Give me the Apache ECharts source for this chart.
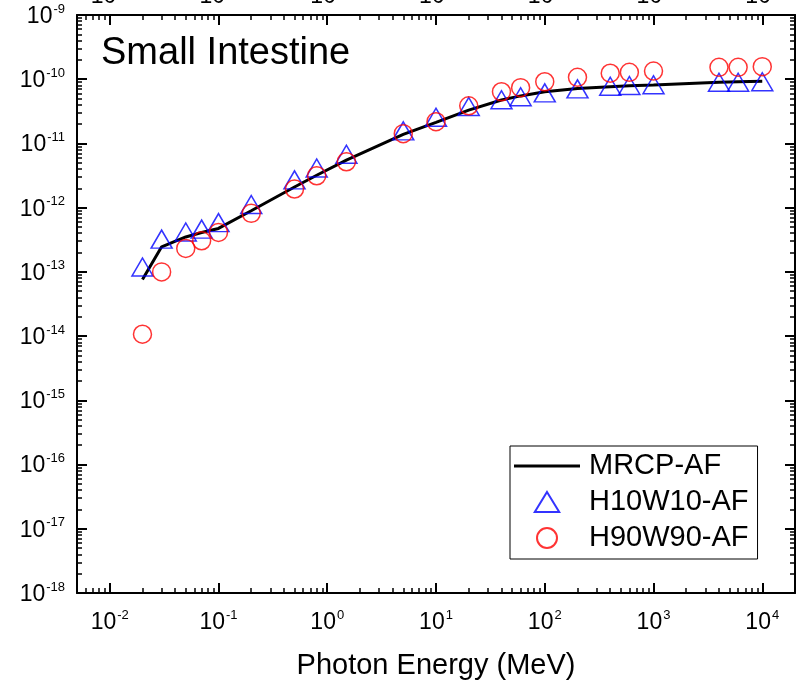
<!DOCTYPE html>
<html>
<head>
<meta charset="utf-8">
<script src="https://cdn.jsdelivr.net/npm/echarts@6/dist/echarts.min.js"></script>
<style>
html,body{margin:0;padding:0;background:#fff;}
#chart{width:798px;height:683px;}
</style>
</head>
<body>
<div id="chart"></div>
<script>
// Photon energies (MeV)
const energies = [0.02,0.03,0.05,0.07,0.1,0.2,0.5,0.8,1.5,5,10,20,40,60,100,200,400,600,1000,4000,6000,10000];
// MRCP-AF reference curve
const mrcpAF = [7.6e-14,2.46e-13,3.5e-13,4.1e-13,4.75e-13,8.95e-13,2.1e-12,3.2e-12,5.5e-12,1.38e-11,2.13e-11,3.31e-11,4.74e-11,5.5e-11,6.38e-11,7.2e-11,7.64e-11,7.9e-11,8.13e-11,9.0e-11,9.15e-11,9.27e-11];
// H10W10-AF
const h10w10AF = [1.19e-13,3.24e-13,4.17e-13,4.64e-13,5.86e-13,1.12e-12,2.71e-12,4.14e-12,6.79e-12,1.57e-11,2.56e-11,3.76e-11,4.78e-11,5.33e-11,6.14e-11,7.08e-11,7.78e-11,7.97e-11,8.2e-11,8.97e-11,8.97e-11,9.13e-11];
// H90W90-AF
const h90w90AF = [1.07e-14,1.0e-13,2.32e-13,3.05e-13,4.12e-13,8.15e-13,1.95e-12,3.14e-12,5.19e-12,1.42e-11,2.18e-11,3.86e-11,6.38e-11,7.38e-11,9.13e-11,1.07e-10,1.24e-10,1.28e-10,1.34e-10,1.53e-10,1.53e-10,1.57e-10];

// Axis tick values
const xMajorTicks = [1e-2,1e-1,1,1e1,1e2,1e3,1e4];
const xMinorTicks = [6e-3,7e-3,8e-3,9e-3,
  2e-2,3e-2,4e-2,5e-2,6e-2,7e-2,8e-2,9e-2,
  0.2,0.3,0.4,0.5,0.6,0.7,0.8,0.9,
  2,3,4,5,6,7,8,9,
  20,30,40,50,60,70,80,90,
  200,300,400,500,600,700,800,900,
  2000,3000,4000,5000,6000,7000,8000,9000];
const yMajorTicks = [1e-18,1e-17,1e-16,1e-15,1e-14,1e-13,1e-12,1e-11,1e-10,1e-9];
const yMinorTicks = [];
for (let k = -18; k <= -10; k++) { for (let m = 2; m <= 9; m++) yMinorTicks.push(Number((m + 'e' + k))); }

const FONT = 'Liberation Sans, Arial, sans-serif';
const expLabel = v => '{b|10}{s|' + Math.round(Math.log10(v)) + '}';
const richLbl = {
  b: {fontSize: 23, fontFamily: FONT, color: '#000', lineHeight: 28},
  s: {fontSize: 13, fontFamily: FONT, color: '#000', lineHeight: 14, verticalAlign: 'top', padding: [0, 0, 0, 1]}
};
const X_MIN = 0.005, X_MAX = 20000, Y_MIN = 1e-18, Y_MAX = 1e-9;

function majorX(pos, showLabel, margin) {
  return {
    type: 'log', logBase: 10, position: pos, min: X_MIN, max: X_MAX,
    axisLine: {show: true, lineStyle: {color: '#000', width: 2}},
    axisTick: {show: true, inside: true, length: 10, lineStyle: {color: '#000', width: 2}, customValues: xMajorTicks},
    axisLabel: {show: showLabel, margin: margin, formatter: expLabel, rich: richLbl, customValues: xMajorTicks},
    splitLine: {show: false}, minorTick: {show: false}
  };
}
function minorX(pos) {
  return {
    type: 'log', logBase: 10, position: pos, min: X_MIN, max: X_MAX,
    axisLine: {show: false},
    axisTick: {show: true, inside: true, length: 5, lineStyle: {color: '#000', width: 1.5}, customValues: xMinorTicks},
    axisLabel: {show: false}, splitLine: {show: false}
  };
}
function majorY(pos, showLabel) {
  return {
    type: 'log', logBase: 10, position: pos, min: Y_MIN, max: Y_MAX,
    axisLine: {show: true, lineStyle: {color: '#000', width: 2}},
    axisTick: {show: true, inside: true, length: 10, lineStyle: {color: '#000', width: 2}, customValues: yMajorTicks},
    axisLabel: {show: showLabel, margin: 12, padding: [3, 0, 0, 0], formatter: expLabel, rich: richLbl, customValues: yMajorTicks},
    splitLine: {show: false}
  };
}
function minorY(pos) {
  return {
    type: 'log', logBase: 10, position: pos, min: Y_MIN, max: Y_MAX,
    axisLine: {show: false},
    axisTick: {show: true, inside: true, length: 5, lineStyle: {color: '#000', width: 1.5}, customValues: yMinorTicks},
    axisLabel: {show: false}, splitLine: {show: false}
  };
}

const xAxes = [majorX('bottom', true, 16), minorX('bottom'), majorX('top', true, 4), minorX('top')];
xAxes[0].name = 'Photon Energy (MeV)';
xAxes[0].nameLocation = 'middle';
xAxes[0].nameGap = 58;
xAxes[0].nameTextStyle = {fontSize: 29, fontFamily: FONT, color: '#000'};

const chart = echarts.init(document.getElementById('chart'), null, {renderer: 'canvas'});
chart.setOption({
  animation: false,
  backgroundColor: '#fff',
  title: {
    text: 'Small Intestine', left: 101, top: 35, padding: 0,
    textStyle: {fontSize: 38, fontWeight: 'normal', fontFamily: FONT, color: '#000'}
  },
  grid: {left: 77, right: 3, top: 15, bottom: 90, outerBoundsMode: 'none', containLabel: false},
  xAxis: xAxes,
  yAxis: [majorY('left', true), minorY('left'), majorY('right', false), minorY('right')],
  legend: {
    orient: 'vertical', left: 510, top: 446,
    padding: [5, 9, 6, 4],
    itemWidth: 66, itemHeight: 20, itemGap: 6,
    symbolKeepAspect: true,
    borderColor: '#000', borderWidth: 1, backgroundColor: '#fff',
    textStyle: {fontSize: 29, fontFamily: FONT, color: '#000', lineHeight: 30, padding: [0, 0, 0, 4]},
    data: [
      {name: 'MRCP-AF', icon: 'path://M0,0L66,0L66,3L0,3Z', itemStyle: {color: '#000', borderWidth: 0}},
      {name: 'H10W10-AF', icon: 'path://M11,0L22,18L0,18Z'},
      {name: 'H90W90-AF', icon: 'circle'}
    ],
    selectedMode: false
  },
  series: [
    {
      name: 'MRCP-AF', type: 'line', xAxisIndex: 0, yAxisIndex: 0,
      data: energies.map((e, i) => [e, mrcpAF[i]]),
      symbol: 'none', lineStyle: {color: '#000', width: 3}, itemStyle: {color: '#000'},
      emphasis: {disabled: true}, z: 2
    },
    {
      name: 'H10W10-AF', type: 'scatter', xAxisIndex: 0, yAxisIndex: 0,
      data: energies.map((e, i) => [e, h10w10AF[i]]),
      symbol: 'triangle', symbolSize: [21, 18],
      itemStyle: {color: 'rgba(0,0,0,0)', borderColor: '#0000ff', borderWidth: 1.5},
      emphasis: {disabled: true}, z: 3
    },
    {
      name: 'H90W90-AF', type: 'scatter', xAxisIndex: 0, yAxisIndex: 0,
      data: energies.map((e, i) => [e, h90w90AF[i]]),
      symbol: 'circle', symbolSize: 18,
      itemStyle: {color: 'rgba(0,0,0,0)', borderColor: '#ff0000', borderWidth: 1.5},
      emphasis: {disabled: true}, z: 3
    }
  ]
});
</script>
</body>
</html>
